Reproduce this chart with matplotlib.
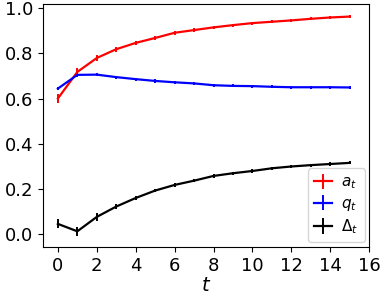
import matplotlib
matplotlib.use("Agg")
import matplotlib.pyplot as plt

t = list(range(16))
a_t = [0.600, 0.718, 0.780, 0.819, 0.847, 0.869, 0.892, 0.904,
       0.916, 0.926, 0.935, 0.941, 0.947, 0.954, 0.960, 0.964]
a_err = [0.020, 0.016, 0.015, 0.011, 0.009, 0.008, 0.008, 0.007,
         0.007, 0.007, 0.007, 0.007, 0.007, 0.007, 0.007, 0.007]
q_t = [0.644, 0.705, 0.706, 0.695, 0.686, 0.678, 0.672, 0.667,
       0.659, 0.656, 0.655, 0.652, 0.650, 0.650, 0.650, 0.649]
q_err = [0.007, 0.008, 0.008, 0.007, 0.007, 0.007, 0.007, 0.007,
         0.007, 0.007, 0.007, 0.007, 0.007, 0.007, 0.007, 0.007]
d_t = [0.043, 0.010, 0.074, 0.120, 0.158, 0.191, 0.216, 0.235,
       0.256, 0.268, 0.278, 0.290, 0.298, 0.304, 0.309, 0.314]
d_err = [0.020, 0.020, 0.016, 0.011, 0.009, 0.008, 0.008, 0.008,
         0.008, 0.007, 0.007, 0.007, 0.007, 0.007, 0.007, 0.007]

fig = plt.figure(figsize=(3.83, 3.04), dpi=100)
ax = fig.add_axes([0.113, 0.188, 0.851, 0.799])

ax.errorbar(t, a_t, yerr=a_err, color='red', lw=1.6, elinewidth=1.4, label='$a_t$')
ax.errorbar(t, q_t, yerr=q_err, color='blue', lw=1.6, elinewidth=1.4, label='$q_t$')
ax.errorbar(t, d_t, yerr=d_err, color='black', lw=1.6, elinewidth=1.4, label=r'$\Delta_t$')

ax.set_xlim(-0.75, 16)
ax.set_xticks(range(0, 17, 2))
ax.set_yticks([0.0, 0.2, 0.4, 0.6, 0.8, 1.0])
ax.tick_params(labelsize=13)
ax.set_xlabel('$t$', fontsize=14, labelpad=1)
ax.legend(loc='lower right', fontsize=11, handlelength=1.2, borderaxespad=0.3,
          labelspacing=0.3, handletextpad=0.6)

plt.savefig('out.png', dpi=100)
